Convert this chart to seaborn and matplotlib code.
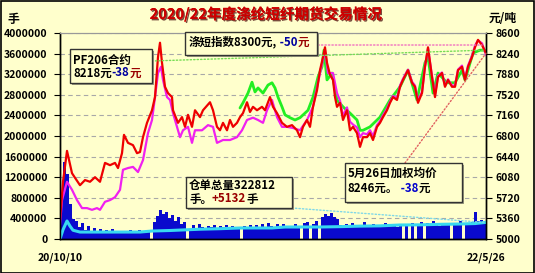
import numpy as np
import pandas as pd
import matplotlib
matplotlib.use('Agg')
import matplotlib.pyplot as plt
import matplotlib.patheffects as pe
from matplotlib.patches import Rectangle
import seaborn as sns

sns.set_theme(style='white')
plt.rcParams['font.family'] = ['Noto Sans CJK SC', 'DejaVu Sans']

BG = '#FFFFCC'
W, H = 535, 273

# ---------------- data ----------------
# x = trading-session index, 0 = 20/10/10, 426 = 22/5/26
date_labels = ['20/10/10', '22/5/26']
x_last = 426
left_ticks = [0, 400000, 800000, 1200000, 1600000, 2000000, 2400000,
              2800000, 3200000, 3600000, 4000000]
right_ticks = [5000, 5360, 5720, 6080, 6440, 6800, 7160, 7520, 7880, 8240, 8600]

# weighted average price (red), right axis
red_pts = [(0, 5330), (3, 6000), (7, 6540), (12, 6150), (15, 6070), (20, 5940), (25, 6030),
           (30, 6000), (35, 6080), (40, 6000), (45, 6330), (50, 6290), (55, 6330), (58, 6240),
           (62, 6500), (64, 6820), (68, 6680), (73, 6640), (77, 6500), (80, 6520), (83, 6780),
           (87, 7030), (92, 7250), (95, 7480), (98, 8180), (100, 8430), (102, 8080), (105, 7660),
           (108, 7550), (112, 7480), (113, 7250), (118, 7030), (122, 7130), (125, 6960),
           (128, 7170), (132, 6960), (135, 7250), (140, 7130), (143, 7250), (150, 7390),
           (153, 7250), (157, 6960), (160, 6900), (163, 7030), (167, 6900), (170, 7080),
           (173, 6960), (177, 7030), (180, 7130), (183, 7200), (187, 7390), (190, 7220),
           (193, 7310), (197, 7250), (202, 7310), (205, 7250), (210, 7480), (213, 7310),
           (217, 7200), (222, 7030), (227, 6960), (232, 6990), (237, 6900), (240, 6780),
           (243, 6960), (247, 7080), (250, 6960), (253, 7310), (257, 7600), (260, 7950),
           (263, 8180), (265, 8350), (267, 8080), (270, 7870), (273, 7780), (275, 7480),
           (277, 7310), (280, 7380), (283, 7080), (287, 7250), (290, 6900), (293, 6960),
           (297, 6850), (300, 6610), (303, 6780), (307, 6780), (310, 6850), (313, 6730),
           (317, 6960), (320, 7030), (323, 7130), (327, 7250), (330, 7380), (333, 7480),
           (337, 7430), (340, 7660), (343, 7780), (348, 7950), (352, 7730), (355, 7660),
           (358, 7380), (362, 7550), (365, 8010), (368, 8350), (372, 7830), (375, 7480),
           (378, 7830), (382, 7900), (385, 7660), (388, 7780), (392, 7660), (395, 7660),
           (398, 7950), (402, 8010), (405, 7780), (408, 8010), (412, 8180), (415, 8350),
           (418, 8480), (422, 8390), (426, 8246)]

# PF206 contract (magenta), right axis
mag_pts = [(0, 5250), (2, 5680), (7, 6000), (12, 5860), (17, 5680), (22, 5540), (27, 5540),
           (32, 5510), (37, 5540), (40, 5510), (45, 5650), (50, 5680), (55, 5730), (60, 5860),
           (63, 6210), (68, 6240), (73, 6260), (78, 6170), (83, 6380), (88, 6850), (92, 7080),
           (95, 7480), (98, 7900), (101, 8010), (103, 7780), (107, 7480), (110, 7430),
           (113, 7200), (117, 6960), (120, 6780), (123, 6900), (128, 6960), (132, 6680),
           (135, 6900), (142, 6900), (148, 6990), (153, 6960), (157, 6680), (163, 6730),
           (170, 6730), (177, 6780), (182, 6900), (187, 7080), (193, 7120), (198, 7080),
           (203, 7030), (207, 7250), (212, 7430), (217, 7130), (222, 6960), (227, 6960),
           (233, 6940), (240, 6900), (247, 7080), (253, 7310), (260, 7900), (265, 8300),
           (268, 7900), (273, 7900), (277, 7550), (280, 7420), (283, 7150), (287, 7300),
           (290, 7050), (293, 7000), (297, 6950), (300, 6780), (303, 6850), (307, 6830),
           (310, 6900), (313, 6800), (317, 6990), (320, 7060), (323, 7160), (327, 7280),
           (330, 7400), (333, 7500), (337, 7460), (340, 7680), (343, 7800), (348, 7960),
           (352, 7750), (355, 7680), (358, 7420), (362, 7570), (365, 8020), (368, 8330),
           (372, 7850), (375, 7520), (378, 7850), (382, 7910), (385, 7680), (388, 7790),
           (392, 7680), (395, 7680), (398, 7960), (402, 8030), (405, 7800), (408, 8030),
           (412, 8200), (415, 8380), (418, 8470), (422, 8420), (426, 8218)]

# spot index (green), right axis
grn_pts = [(180, 7290), (183, 7380), (188, 7550), (192, 7740), (195, 7570), (198, 7640),
           (203, 7550), (208, 7690), (212, 7730), (215, 7640), (218, 7480), (222, 7310),
           (225, 7170), (230, 7120), (235, 7080), (240, 7120), (245, 7200), (248, 7250),
           (253, 7480), (258, 7830), (262, 8010), (264, 8300), (267, 7780), (272, 7900),
           (277, 7430), (283, 7310), (290, 7200), (297, 7080), (300, 6900), (303, 6900),
           (310, 6960), (320, 7130), (330, 7430), (340, 7660), (348, 7950), (357, 7430),
           (365, 8080), (368, 8180), (373, 7550), (378, 7900), (387, 7730), (395, 7730),
           (402, 7950), (405, 7780), (413, 8250), (420, 8300), (426, 8300)]

# warehouse receipts (cyan), left axis, lots
wr_pts = [(0, 0), (3, 180000), (7, 350000), (10, 250000), (13, 170000), (20, 135000),
          (40, 135000), (60, 135000), (80, 135000), (92, 155000), (110, 165000),
          (122, 175000), (140, 190000), (160, 200000), (180, 214000), (200, 214000),
          (212, 214000), (225, 233000), (245, 233000), (260, 233000), (280, 240000),
          (300, 250000), (320, 255000), (340, 272000), (360, 275000), (380, 285000),
          (400, 291000), (415, 300000), (426, 322812)]

# volume (blue), left axis, thousand lots, one value per 3 sessions
vol_k = [780, 1500, 1260, 680, 390, 350, 230, 310, 170, 250, 160, 210, 140, 190, 120, 170,
         140, 200, 130, 150, 120, 160, 140, 180, 130, 150, 170, 140, 160, 130, 0, 330,
         450, 560, 480, 520, 400, 460, 350, 420, 300, 330, 0, 200, 270, 220, 300, 240,
         200, 260, 230, 280, 200, 250, 230, 270, 210, 250, 200, 230, 0, 260, 220, 280,
         240, 270, 220, 300, 230, 320, 250, 230, 290, 240, 300, 230, 260, 220, 290, 250,
         0, 320, 330, 0, 290, 340, 0, 420, 480, 440, 500, 420, 380, 280, 240, 300,
         230, 310, 240, 260, 230, 330, 250, 230, 300, 240, 260, 230, 320, 250, 260, 300,
         230, 290, 0, 300, 0, 320, 0, 290, 330, 0, 310, 250, 340, 280, 260, 320,
         270, 300, 0, 320, 270, 340, 0, 280, 300, 330, 520, 340, 360, 330]

red_x, red_v = zip(*red_pts)
mag_x, mag_v = zip(*mag_pts)
grn_x, grn_v = zip(*grn_pts)
wr_x, wr_v = zip(*wr_pts)
vol_x = np.arange(len(vol_k)) * 3 + 1.5
vol_v = np.array(vol_k) * 1000

# ---------------- figure ----------------
fig = plt.figure(figsize=(W / 100, H / 100), dpi=100, facecolor=BG)
ax = fig.add_axes([60 / W, 1 - 239 / H, 426 / W, 206 / H])
ax.set_facecolor(BG)
ax2 = ax.twinx()

FONT = dict(fontweight='bold')

vx = np.concatenate([[0], vol_x, [x_last]])
vv = np.concatenate([[vol_v[0]], vol_v, [vol_v[-1]]])
ax.fill_between(vx, 0, vv, step='mid', color='#0A0ACD', linewidth=0, zorder=2)
sns.lineplot(x=list(wr_x), y=list(wr_v), ax=ax, color='#38D8F0', lw=2.2, zorder=3)

sns.lineplot(x=list(grn_x), y=list(grn_v), ax=ax2, color='#22EE22', lw=2.0)
sns.lineplot(x=list(mag_x), y=list(mag_v), ax=ax2, color='#F020F0', lw=1.6)
sns.lineplot(x=list(red_x), y=list(red_v), ax=ax2, color='#EE0000', lw=1.6)

ax.set_xlim(0, x_last)
ax.set_ylim(left_ticks[0], left_ticks[-1])
ax2.set_ylim(right_ticks[0], right_ticks[-1])
ax.set_yticks(left_ticks)
ax.set_yticklabels([str(t) for t in left_ticks], fontsize=7.5, **FONT)
ax2.set_yticks(right_ticks)
ax2.set_yticklabels([str(t) for t in right_ticks], fontsize=7.5, **FONT)
ax.set_xticks([0, x_last])
ax.set_xticklabels(date_labels, fontsize=7.5, **FONT)
ax.set_xlabel('')
ax.set_ylabel('')
ax2.set_ylabel('')

ax.tick_params(axis='y', direction='out', length=4, width=0.8, pad=5, colors='black', left=True)
ax2.tick_params(axis='y', direction='out', length=4, width=0.8, pad=3, colors='black', right=True)
ax.tick_params(axis='x', length=0, pad=10, colors='black')

ax.yaxis.grid(True, linestyle=(0, (4, 3)), color='#A8A8A8', lw=0.8)
ax.xaxis.grid(False)
ax2.grid(False)
ax.set_axisbelow(True)

for a in (ax, ax2):
    for s in ('left', 'right', 'bottom'):
        a.spines[s].set_color('black')
        a.spines[s].set_linewidth(1.0)
    a.spines['top'].set_color('#999999')
    a.spines['top'].set_linewidth(0.8)

# leader lines (dotted) from boxes to series' last values
def leader(axis, xy, start_px, color):
    axis.annotate('', xy=xy, xycoords='data', xytext=(start_px[0], H - start_px[1]),
                  textcoords='figure pixels', annotation_clip=False,
                  arrowprops=dict(arrowstyle='-', linestyle=(0, (1, 1.5)), color=color,
                                  lw=1.0, shrinkA=0, shrinkB=0))

leader(ax2, (x_last - 4, 8390), (318, 45), '#F070C0')
leader(ax2, (x_last - 2, grn_v[-1]), (152, 61), '#77DD55')
leader(ax2, (x_last, red_v[-1]), (405, 163), '#E06060')
leader(ax, (x_last - 2, wr_v[-1]), (292, 208), '#80D8E8')

# annotation boxes
def box(x0, y0, x1, y1):
    fig.patches.append(Rectangle(((x0 + 2) / W, 1 - (y1 + 2) / H), (x1 - x0) / W, (y1 - y0) / H,
                                 transform=fig.transFigure, facecolor='#9A9A80',
                                 edgecolor='none', zorder=5))
    fig.patches.append(Rectangle((x0 / W, 1 - y1 / H), (x1 - x0) / W, (y1 - y0) / H,
                                 transform=fig.transFigure, facecolor=BG,
                                 edgecolor='#333333', lw=1.0, zorder=6))

renderer = fig.canvas.get_renderer()

def runs(x, y, parts, size=8.3):
    for s, c in parts:
        t = fig.text(x / W, 1 - y / H, s, color=c, fontsize=size, ha='left', va='center',
                     zorder=7, **FONT)
        x += t.get_window_extent(renderer).width

BLK, NAVY, MAROON = '#000000', '#0000A0', '#990000'

box(70, 49, 152, 83)
runs(73, 60, [('PF206合约', BLK)])
runs(73, 73, [('8218元', BLK), ('-38', NAVY), ('元', MAROON)])

box(185, 32, 317, 55)
runs(189, 42, [('涤短指数8300元,', BLK), (' -50', NAVY), ('元', MAROON)])

box(186, 177, 292, 208)
runs(189, 185, [('仓单总量322812', BLK)])
runs(189, 199, [('手。', BLK), ('+5132', MAROON), ('手', BLK)])

box(345, 163, 462, 202)
runs(348, 173, [('5月26日加权均价', BLK)])
runs(348, 188, [('8246元。', BLK), (' -38', '#0000CC'), ('元', BLK)])

# title and unit labels
fig.text(266 / W, 1 - 14 / H, '2020/22年度涤纶短纤期货交易情况', color='#CC0000', fontsize=10.5,
         ha='center', va='center', **FONT,
         path_effects=[pe.withSimplePatchShadow(offset=(1, -1), shadow_rgbFace='#400000', alpha=0.7),
                       pe.Normal()])
fig.text(13 / W, 1 - 19 / H, '手', fontsize=8.5, ha='center', va='center', color=BLK, **FONT)
fig.text(503 / W, 1 - 18 / H, '元/吨', fontsize=8.5, ha='center', va='center', color=BLK, **FONT)

# outer frame
fig.patches.append(Rectangle((0.5 / W, 0.5 / H), (W - 1.5) / W, (H - 1.5) / H,
                             transform=fig.transFigure, facecolor='none',
                             edgecolor='black', lw=1.2, zorder=10))

fig.savefig('out.png', dpi=100, facecolor=BG)
